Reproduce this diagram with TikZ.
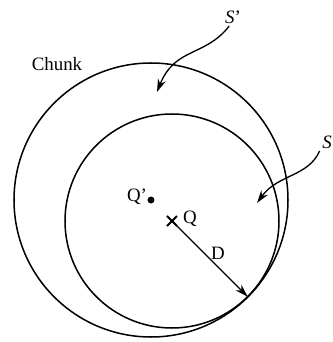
\documentclass[tikz,border=0pt]{standalone}
\usepackage{fontspec}
\setmainfont{Liberation Serif}
\usetikzlibrary{positioning, arrows.meta}

\begin{document}
\begin{tikzpicture}[x=0.0186cm, y=0.0186cm, line width=.8pt,
    pointer/.style={-{Stealth[length=2.4mm, width=1.5mm]}, line width=.7pt},
    lbl/.style={inner sep=1pt}]
\useasboundingbox (0,0) rectangle (333,342);

  % Centres and circles
\coordinate (qc) at (151,142);
\coordinate (q) at (172,121);
\coordinate (tp) at ([shift={(-45:107)}]q);
\draw (qc) circle[radius=137];
\draw (q) circle[radius=107];

% Q' dot and Q cross
\fill (qc) circle[radius=3.5];
\draw[line width=1.1pt] ([shift={(-5,-5)}]q) -- ([shift={(5,5)}]q);
\draw[line width=1.1pt] ([shift={(-5,5)}]q) -- ([shift={(5,-5)}]q);

% Labels
\node[lbl] (chunk) at (57,278) {Chunk};
\node[lbl] (sprime) at (233,325) {\textit{S}'};
\node[lbl] (s) at (327,200) {\textit{S}};
\node[lbl] (qplbl) at (137,145) {Q'};
\node[lbl] (qlbl) at (190,123) {Q};
\node[lbl] (dlbl) at (218,89) {D};

% Radius D
\draw[pointer] (q) -- (tp);

% Curved pointers
\coordinate (sptip) at (157,250);
\coordinate (stip) at (257,139);
\draw[pointer] ([xshift=-2pt]sprime.south) .. controls (205,285) and (175,295) .. (sptip);
\draw[pointer] (s.south west) .. controls (308,165) and (278,168) .. (stip);

\end{tikzpicture}
\end{document}
